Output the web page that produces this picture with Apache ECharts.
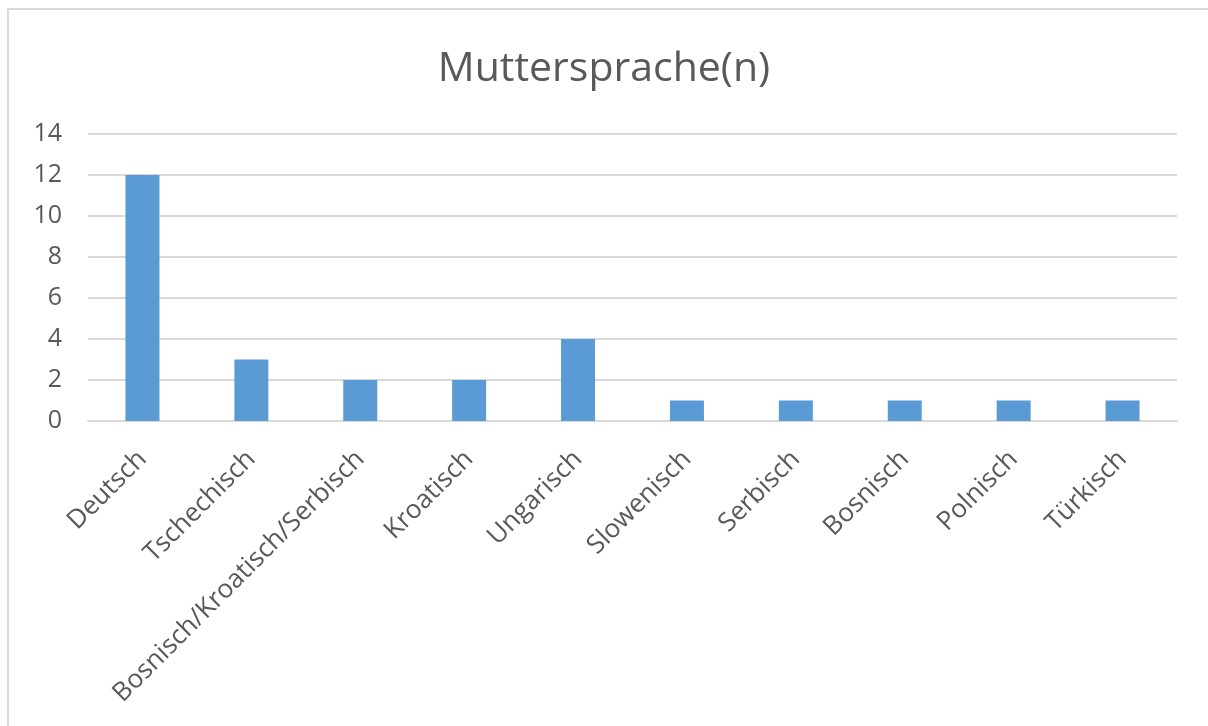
<!DOCTYPE html>
<html>
<head>
<meta charset="utf-8">
<script src="https://cdn.jsdelivr.net/npm/echarts@6/dist/echarts.min.js"></script>
<style>
  html, body { margin:0; padding:0; background:#fff; }
  #frame { position:absolute; left:7px; top:8px; width:1201px; height:718px;
           border-top:2px solid #d9d9d9; border-left:2px solid #d9d9d9; box-sizing:border-box; }
  #main { position:absolute; left:0; top:0; width:1208px; height:726px; }
</style>
</head>
<body>
<div id="frame"></div>
<div id="main"></div>
<script>
var categories = ['Deutsch','Tschechisch','Bosnisch/Kroatisch/Serbisch','Kroatisch','Ungarisch','Slowenisch','Serbisch','Bosnisch','Polnisch','Türkisch'];
var counts = [12, 3, 2, 2, 4, 1, 1, 1, 1, 1];
var titleText = 'Muttersprache(n)';

var chart = echarts.init(document.getElementById('main'));
var font = '"Open Sans", "Noto Sans", sans-serif';

chart.setOption({
    animation:false,
    title:{
        text:titleText,
        left:'center',
        top:44,
        textStyle:{color:'#595959', fontSize:41, fontWeight:'normal', fontFamily:font}
    },
    grid:{left:88, right:31, top:134, bottom:305},
    xAxis:{
        type:'category',
        data:categories,
        axisLine:{lineStyle:{color:'#d9d9d9', width:2}},
        axisTick:{show:false},
        axisLabel:{rotate:45, margin:34, interval:0, color:'#595959', fontSize:26, fontFamily:font}
    },
    yAxis:{
        type:'value',
        min:0, max:14, interval:2,
        axisLine:{show:false},
        axisTick:{show:false},
        splitLine:{lineStyle:{color:'#d9d9d9', width:2}},
        axisLabel:{margin:26, color:'#595959', fontSize:25, fontFamily:font}
    },
    series:[{
        type:'bar',
        data:counts,
        barWidth:34,
        itemStyle:{color:'#5b9bd5'}
    }]
});
</script>
</body>
</html>
